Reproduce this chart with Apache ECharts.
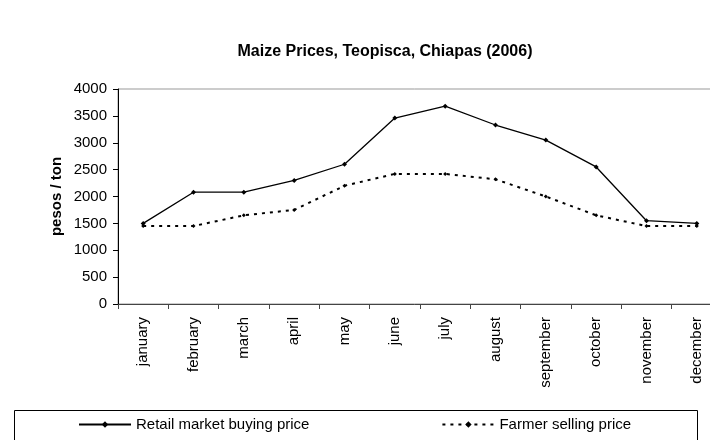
<!DOCTYPE html>
<html>
<head>
<meta charset="utf-8">
<script src="https://cdn.jsdelivr.net/npm/echarts@6/dist/echarts.min.js"></script>
<style>html,body{margin:0;padding:0;background:#fff}#c{width:710px;height:440px}</style>
</head>
<body>
<div id="c"></div>
<script>
const months = ['january','february','march','april','may','june','july','august','september','october','november','december'];
const retail = [1500, 2080, 2080, 2300, 2600, 3460, 3680, 3330, 3050, 2550, 1550, 1500];
const farmer = [1450, 1450, 1650, 1750, 2200, 2420, 2420, 2320, 2000, 1650, 1450, 1450];
const yMin = 0, yMax = 4000, yStep = 500;

const font = 'Liberation Sans, Arial, sans-serif';
const chart = echarts.init(document.getElementById('c'), null, {renderer: 'canvas'});
chart.setOption({
  animation: false,
  backgroundColor: '#fff',
  textStyle: {fontFamily: font, color: '#000'},
  title: {
    text: 'Maize Prices, Teopisca, Chiapas (2006)',
    left: 380, top: 39, textAlign: 'center',
    textStyle: {fontFamily: font, fontSize: 16, fontWeight: 'bold', color: '#000'}
  },
  grid: {left: 118, top: 89, width: 604, height: 215, outerBoundsMode: 'none', containLabel: false,
         show: true, borderColor: '#999', borderWidth: 1, backgroundColor: 'transparent'},
  graphic: [{
    type: 'rect', left: 12, top: 408, shape: {width: 683, height: 30},
    style: {fill: 'none', stroke: '#000', lineWidth: 1}, z: 0
  }],
  legend: {
    left: 78, top: 417, padding: 0, itemGap: 132, itemWidth: 52, itemHeight: 8,
    textStyle: {fontFamily: font, fontSize: 15, color: '#000'},
    data: ['Retail market buying price', 'Farmer selling price']
  },
  xAxis: {
    type: 'category', data: months, boundaryGap: true,
    axisLine: {lineStyle: {color: '#444', width: 1}},
    axisTick: {show: true, length: 5, lineStyle: {color: '#444'}},
    axisLabel: {rotate: 90, fontSize: 15, color: '#000', fontFamily: font, margin: 13, interval: 0}
  },
  yAxis: {
    type: 'value', min: yMin, max: yMax, interval: yStep,
    name: 'pesos / ton', nameLocation: 'middle', nameGap: 54, nameRotate: 90, nameMoveOverlap: false,
    nameTextStyle: {fontFamily: font, fontSize: 15, fontWeight: 'bold', color: '#000'},
    axisLine: {show: true, lineStyle: {color: '#000', width: 1}},
    axisTick: {show: true, length: 5, lineStyle: {color: '#000'}},
    axisLabel: {fontSize: 15, color: '#000', fontFamily: font, margin: 11, formatter: v => String(v)},
    splitLine: {show: false}
  },
  series: [
    {
      name: 'Retail market buying price', type: 'line', data: retail,
      symbol: 'diamond', symbolSize: 5, showSymbol: true,
      lineStyle: {color: '#000', width: 1.3},
      itemStyle: {color: '#000'}
    },
    {
      name: 'Farmer selling price', type: 'line', data: farmer,
      symbol: 'diamond', symbolSize: 4, showSymbol: true,
      lineStyle: {color: '#000', width: 2, type: [3, 5]},
      itemStyle: {color: '#000'}
    }
  ]
});
</script>
</body>
</html>
